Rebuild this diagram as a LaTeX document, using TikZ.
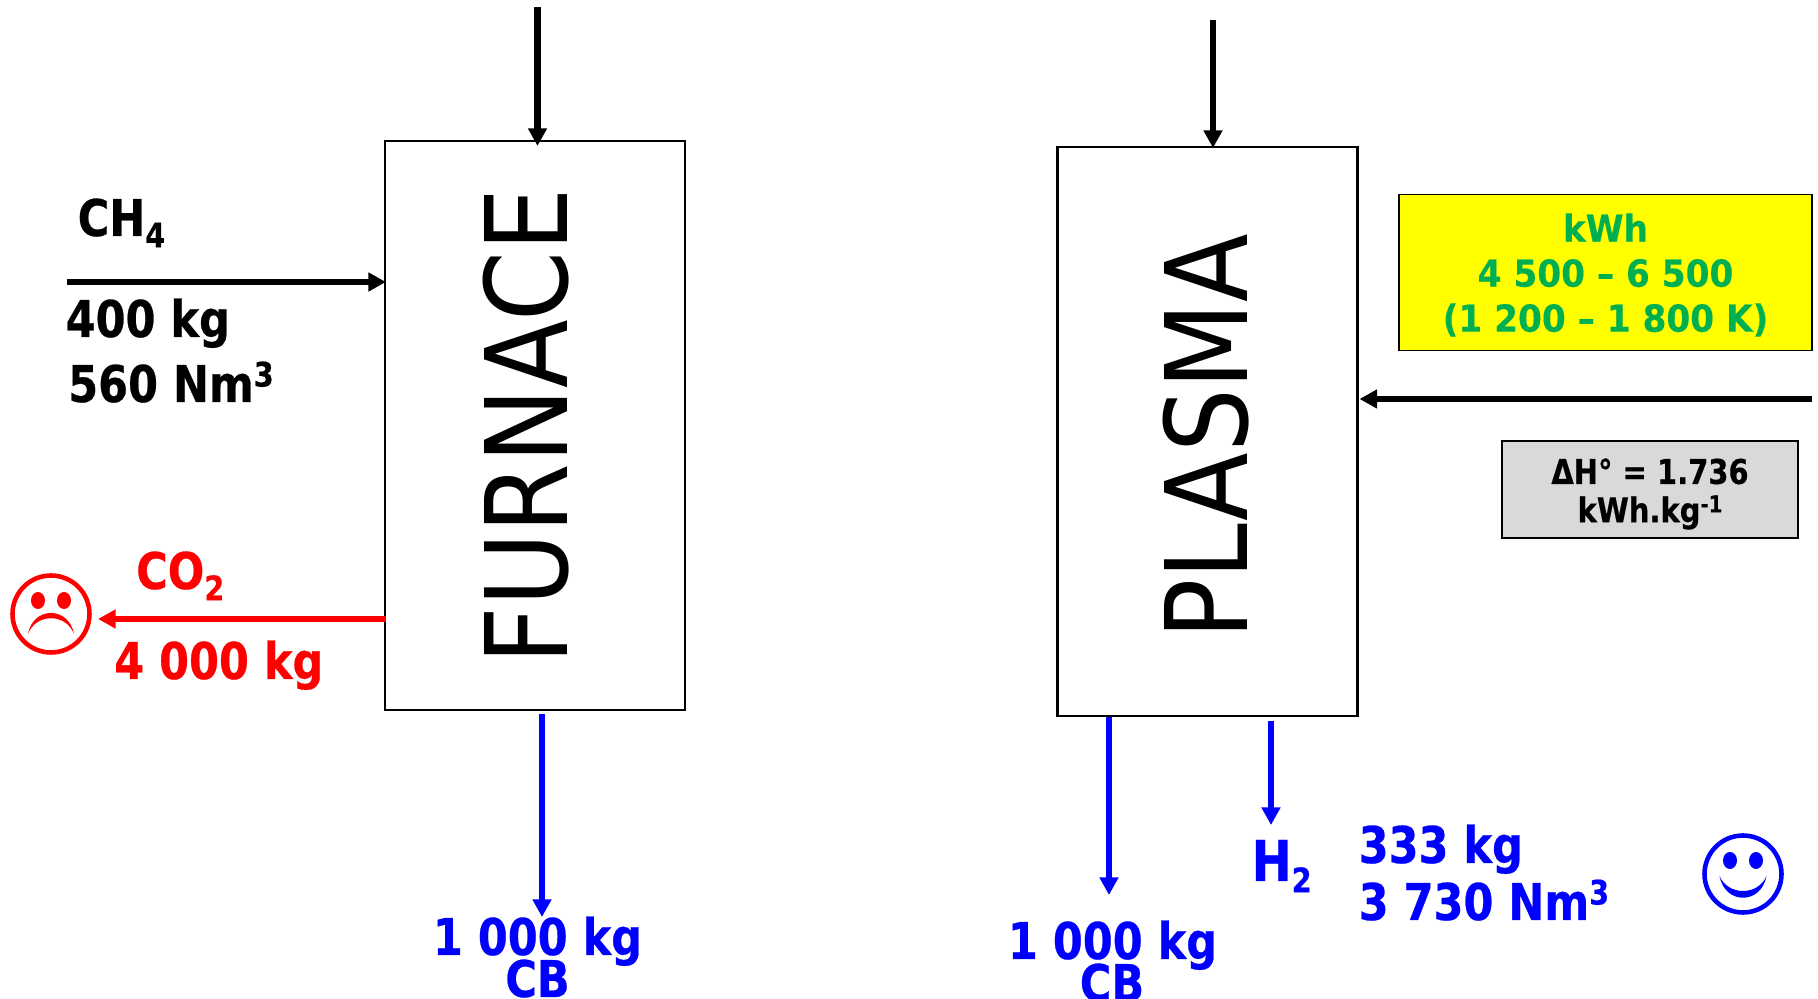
\documentclass[tikz,border=0pt]{standalone}
\usepackage{fontspec}
\usetikzlibrary{arrows.meta}
\newfontfamily\narrowfont[FakeStretch=0.85, BoldFeatures={FakeBold=0.5}]{DejaVu Sans}
\newfontfamily\namefont[FakeStretch=0.88]{DejaVu Sans}
\newfontfamily\panelfont[FakeStretch=0.92, BoldFeatures={FakeBold=0.3}]{DejaVu Sans}
\newcommand{\lowidx}[1]{\raisebox{-3.2pt}{\fontsize{9.6}{9.6}\selectfont #1}}
\newcommand{\highidx}[1]{\raisebox{4.4pt}{\fontsize{9.6}{9.6}\selectfont #1}}
\def\faceoutline[#1](#2){
	\draw[line width=1.3pt, color=#1] (#2) circle (0.385);
	\fill[color=#1] ([shift={(-0.13, 0.135)}]#2) ellipse (0.07 and 0.085);
	\fill[color=#1] ([shift={(0.13, 0.135)}]#2) ellipse (0.07 and 0.085);
}
\definecolor{panelgreen}{HTML}{00B050}
\definecolor{panelgray}{HTML}{D9D9D9}
\definecolor{panelyellow}{HTML}{FFFF00}
\definecolor{flowred}{HTML}{FF0000}
\definecolor{flowblue}{HTML}{0000FF}
\tikzset{
	reactor/.style={draw, line width=0.6pt, inner sep=0pt, minimum width=3.00cm, minimum height=5.69cm},
	reactorname/.style={rotate=90, inner sep=0pt, font=\namefont\fontsize{32.4}{32.4}\selectfont},
	mass/.style={inner sep=0pt, anchor=base west, font=\narrowfont\bfseries\fontsize{14.4}{14.4}\selectfont},
	masscenter/.style={mass, anchor=base},
	thinflow/.style={line width=1.45pt, -{Triangle[length=0.175cm, width=0.18cm]}},
	thickflow/.style={line width=1.8pt, -{Triangle[length=0.175cm, width=0.18cm]}},
}

\begin{document}
\begin{tikzpicture}
	\useasboundingbox (0, 0) rectangle (18.18, 9.99);
	
	%%%%% reactors
	\node[reactor] (furnace) at (5.35, 5.735) {};
	\node[reactor] (plasma) at (12.075, 5.675) {};
	\node[reactorname] (furnacename) at (5.265, 5.725) {FURNACE};
	\node[reactorname] (plasmaname) at (12.065, 5.62) {PLASMA};
	
	%%%%% free ends
	\coordinate (furnacetop) at (5.375, 9.92);
	\coordinate (plasmatop) at (12.13, 9.79);
	\coordinate (methane) at (0.67, 7.17);
	\coordinate (fume) at (0.98, 3.80);
	\coordinate (heat) at (18.12, 6.00);
	\coordinate (furnacecb) at (5.42, 0.82);
	\coordinate (plasmacb) at (11.09, 1.04);
	\coordinate (hydrogen) at (12.71, 1.74);
	
	%%%%% flows
	\draw[thickflow] (furnacetop) -- ([yshift=-0.06cm]furnacetop |- furnace.north);
	\draw[thickflow] (plasmatop) -- ([yshift=-0.02cm]plasmatop |- plasma.north);
	\draw[thickflow] (methane) -- ([xshift=0.02cm]methane -| furnace.west);
	\draw[thickflow, color=flowred] ([xshift=0.02cm]fume -| furnace.west) -- (fume);
	\draw[thickflow] (heat) -- ([xshift=0.01cm]heat -| plasma.east);
	\draw[thinflow, color=flowblue] ([yshift=-0.03cm]furnacecb |- furnace.south) -- (furnacecb);
	\draw[thickflow, color=flowblue] (plasmacb |- plasma.south) -- (plasmacb);
	\draw[thinflow, color=flowblue] ([yshift=-0.04cm]hydrogen |- plasma.south) -- (hydrogen);
	
	%%%%% furnace labels
	\node[mass] (ch4) at (0.77, 7.63) {CH\lowidx{4}};
	\node[mass] (ch4kg) at (0.65, 6.62) {400 kg};
	\node[mass] (ch4vol) at (0.675, 5.97) {560 Nm\highidx{3}};
	\node[mass, color=flowred] (co2) at (1.355, 4.10) {CO\lowidx{2}};
	\node[mass, color=flowred] (co2kg) at (1.135, 3.20) {4 000 kg};
	\node[masscenter, color=flowblue] (furnacekg) at (5.375, 0.44) {1 000 kg};
	\node[masscenter, color=flowblue] (furnaceblack) at (5.375, 0.02) {CB};
	
	%%%%% plasma labels
	\node[masscenter, color=flowblue] (plasmakg) at (11.125, 0.40) {1 000 kg};
	\node[masscenter, color=flowblue] (plasmablack) at (11.12, -0.02) {CB};
	\node[mass, color=flowblue, font=\narrowfont\bfseries\fontsize{16}{16}\selectfont] (h2) at (12.51, 1.18) {H\lowidx{2}};
	\node[mass, color=flowblue] (h2kg) at (13.58, 1.36) {333 kg};
	\node[mass, color=flowblue] (h2vol) at (13.58, 0.79) {3 730 Nm\highidx{3}};
	
	%%%%% panels
	\node[draw=black, fill=panelyellow, line width=0.5pt, inner sep=0pt, minimum width=4.13cm, minimum height=1.56cm] (energy) at (16.055, 7.265) {};
	\node[inner sep=0pt, align=center, text=panelgreen, font=\panelfont\bfseries\fontsize{10.6}{12.8}\selectfont] (energytext) at (16.055, 7.24) {kWh\\4 500 – 6 500\\(1 200 – 1 800 K)};
	\node[draw, fill=panelgray, line width=0.6pt, inner sep=0pt, minimum width=2.96cm, minimum height=0.97cm] (enthalpy) at (16.50, 5.095) {};
	\node[inner sep=0pt, align=center, font=\narrowfont\bfseries\fontsize{9.7}{10.9}\selectfont] (enthalpytext) at (16.50, 5.05) {ΔH° = 1.736\\kWh.kg\raisebox{2.8pt}{\fontsize{6.6}{6.6}\selectfont -1}};
	
	%%%%% faces
	\coordinate (sadface) at (0.51, 3.85);
	\coordinate (happyface) at (17.43, 1.25);
	\faceoutline[flowred](sadface);
	\fill[color=flowred] ([shift={(-0.23, -0.20)}]sadface) .. controls ([shift={(-0.18, 0.08)}]sadface) and ([shift={(0.18, 0.08)}]sadface) .. ([shift={(0.23, -0.20)}]sadface) .. controls ([shift={(0.15, 0.01)}]sadface) and ([shift={(-0.15, 0.01)}]sadface) .. cycle;
	\faceoutline[flowblue](happyface);
	\fill[color=flowblue] ([shift={(-0.235, -0.02)}]happyface) .. controls ([shift={(-0.18, -0.31)}]happyface) and ([shift={(0.18, -0.31)}]happyface) .. ([shift={(0.235, -0.02)}]happyface) .. controls ([shift={(0.15, -0.22)}]happyface) and ([shift={(-0.15, -0.22)}]happyface) .. cycle;
\end{tikzpicture}
\end{document}
